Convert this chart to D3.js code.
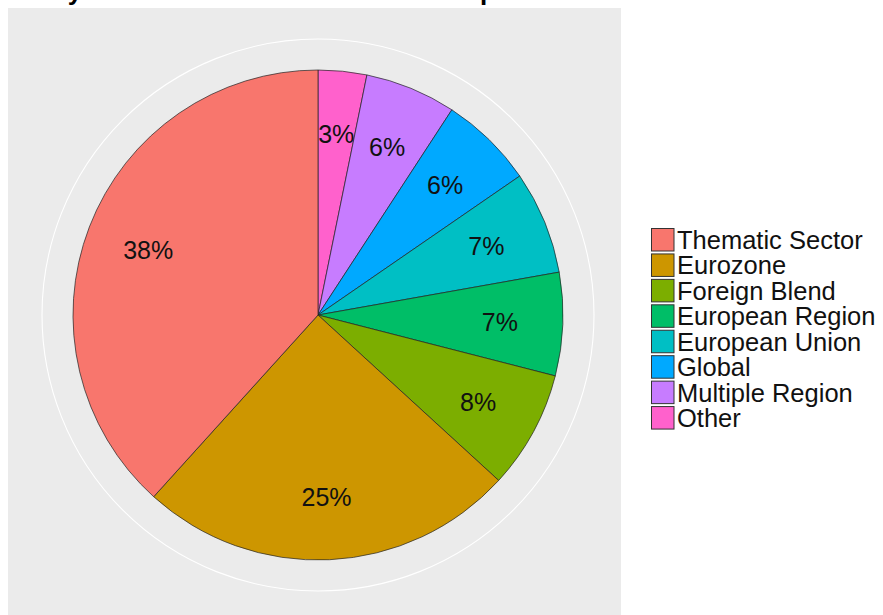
<!DOCTYPE html>
<html>
<head>
<meta charset="utf-8">
<script src="https://cdn.jsdelivr.net/npm/d3@7"></script>
<style>
  body { margin: 0; background: #fff; }
  text { font-family: Arial, "Liberation Sans", sans-serif; }
</style>
</head>
<body>
<div id="chart"></div>
<script>
// slices, clockwise from 12 o'clock
var categories = ["Other", "Multiple Region", "Global", "European Union",
                  "European Region", "Foreign Blend", "Eurozone", "Thematic Sector"];
var shares = [3.2, 6.0, 6.2, 6.8, 6.8, 7.8, 24.9, 38.3];
var colors = ["#FF61CC", "#C77CFF", "#00A9FF", "#00BFC4",
              "#00BE67", "#7CAE00", "#CD9600", "#F8766D"];
var legendOrder = ["Thematic Sector", "Eurozone", "Foreign Blend", "European Region",
                   "European Union", "Global", "Multiple Region", "Other"];
var titleText = "Study Areas of Investment in the European Fund Universe";

var width = 883, height = 615;

var svg = d3.select("#chart").append("svg")
    .attr("width", width)
    .attr("height", height);

// title (cut off at the top of the picture, as in the source)
svg.append("text")
    .attr("x", 10)
    .attr("y", 0)
    .style("font-size", "26px")
    .style("font-weight", "bold")
    .text(titleText);

// panel
var panel = { left: 8, top: 8, right: 621, bottom: 615 };
svg.append("rect")
    .attr("x", panel.left)
    .attr("y", panel.top)
    .attr("width", panel.right - panel.left)
    .attr("height", panel.bottom - panel.top)
    .attr("fill", "#EBEBEB");

var cx = 318, cy = 315, radius = 245;

var g = svg.append("g")
    .attr("transform", "translate(" + cx + "," + cy + ")");

// outer grid circle
g.append("circle")
    .attr("r", 276)
    .attr("fill", "none")
    .attr("stroke", "#fff")
    .attr("stroke-width", 1.1);

var color = d3.scaleOrdinal().domain(categories).range(colors);

var pie = d3.pie().sort(null).value(function(d) { return d.value; });
var data = categories.map(function(c, i) { return { name: c, value: shares[i] }; });
var arcs = pie(data);

var arc = d3.arc().innerRadius(0).outerRadius(radius);
var labelArc = d3.arc().innerRadius(182).outerRadius(182);

g.selectAll("path.slice")
    .data(arcs)
    .enter()
    .append("path")
    .attr("class", "slice")
    .attr("d", arc)
    .attr("fill", function(d) { return color(d.data.name); })
    .attr("stroke", "#222")
    .attr("stroke-width", 0.7);

g.selectAll("text.lab")
    .data(arcs)
    .enter()
    .append("text")
    .attr("class", "lab")
    .attr("transform", function(d) { return "translate(" + labelArc.centroid(d) + ")"; })
    .attr("dy", "0.36em")
    .attr("text-anchor", "middle")
    .style("font-size", "25px")
    .style("fill", "#111")
    .text(function(d) { return Math.round(d.data.value) + "%"; });

// legend
var legend = svg.append("g")
    .attr("transform", "translate(651,228)");

var rowY = d3.scaleBand().domain(legendOrder).range([0, 203.5]).paddingInner(0);

var rows = legend.selectAll("g.row")
    .data(legendOrder)
    .enter()
    .append("g")
    .attr("class", "row")
    .attr("transform", function(d) { return "translate(0," + rowY(d) + ")"; });

rows.append("rect")
    .attr("x", 0.5)
    .attr("y", 0.5)
    .attr("width", 22.5)
    .attr("height", 22.5)
    .attr("fill", function(d) { return color(d); })
    .attr("stroke", "#333")
    .attr("stroke-width", 1);

rows.append("text")
    .attr("x", 26)
    .attr("y", 21)
    .style("font-size", "25.5px")
    .style("fill", "#111")
    .text(function(d) { return d; });
</script>
</body>
</html>
